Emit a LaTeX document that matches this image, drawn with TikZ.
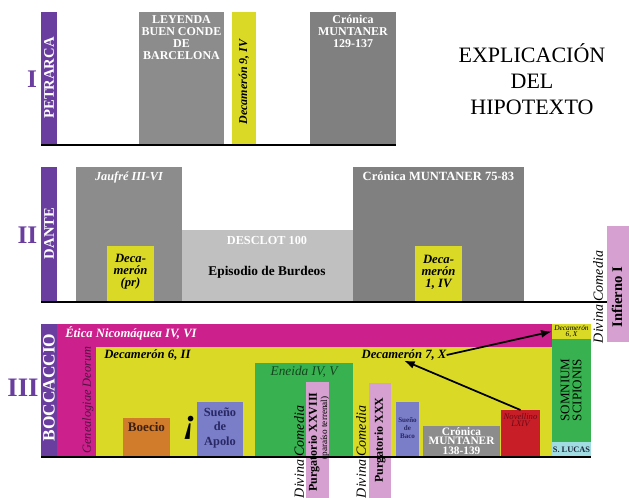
\documentclass[tikz,border=0pt]{standalone}
\usepackage{fontspec}
\setmainfont{Liberation Serif}
\usetikzlibrary{arrows.meta}

\definecolor{violeta}{RGB}{106,62,158}
\definecolor{gris}{RGB}{140,140,140}
\definecolor{grisoscuro}{RGB}{128,128,128}
\definecolor{grisclaro}{RGB}{192,192,192}
\definecolor{amarillo}{RGB}{218,218,38}
\definecolor{magenta}{RGB}{204,32,140}
\definecolor{verde}{RGB}{56,178,80}
\definecolor{naranja}{RGB}{208,124,42}
\definecolor{azul}{RGB}{122,126,200}
\definecolor{rosa}{RGB}{214,160,208}
\definecolor{rojo}{RGB}{200,30,40}
\definecolor{celeste}{RGB}{160,220,226}

\begin{document}
\begin{tikzpicture}[x=0.75pt,y=0.75pt,yscale=-1,xscale=1,
	base/.style={line width=1.2pt},
	flecha/.style={-{Latex[length=8pt,width=6pt]},line width=1.3pt},
	numero/.style={text=violeta,font=\bfseries\fontsize{19}{19}\selectfont,inner sep=0pt},
	autor/.style={rotate=90,text=white,font=\bfseries\fontsize{11}{11}\selectfont,inner sep=0pt},
	gristxt/.style={text=white,align=center,inner sep=0pt,font=\bfseries\fontsize{9}{9}\selectfont},
	cursiva/.style={align=center,inner sep=0pt,font=\bfseries\itshape\fontsize{9.5}{9}\selectfont},
	vertical/.style={rotate=90,inner sep=0pt}]
	\useasboundingbox (0,0) rectangle (629,498);

	%%% fila I: Petrarca
	%Shape: Rectangle
	\fill [violeta] (41,12) rectangle (57,145);
	\fill [gris] (139,12) rectangle (224,145);
	\fill [amarillo] (232,12) rectangle (256,145);
	\fill [grisoscuro] (310,12) rectangle (396,145);
	%Straight Lines
	\draw [base] (41,145) -- (396,145);

	% Text Node
	\draw (32,79) node [numero] (uno) {I};
	% Text Node
	\draw (49,78) node [autor] (petrarca) {PETRARCA};
	% Text Node
	\draw (181.5,15) node [gristxt,anchor=north] (leyenda) {LEYENDA\\BUEN CONDE\\DE\\BARCELONA};
	% Text Node
	\draw (244,82) node [vertical,font=\bfseries\itshape\fontsize{9}{9}\selectfont] (decnueve) {Decamerón 9, IV};
	% Text Node
	\draw (353,15) node [gristxt,anchor=north] (muntanera) {Crónica\\MUNTANER\\129-137};
	% Text Node
	\draw (532,79) node [align=center,inner sep=0pt,font=\fontsize{16.5}{19.5}\selectfont] (titulo) {EXPLICACIÓN\\DEL\\HIPOTEXTO};

	%%% fila II: Dante
	%Shape: Rectangle
	\fill [violeta] (41,167) rectangle (57,302);
	\fill [gris] (76,167) rectangle (182,302);
	\fill [amarillo] (107,246) rectangle (154,302);
	\fill [grisclaro] (182,230) rectangle (353,302);
	\fill [grisoscuro] (353,167) rectangle (524,302);
	\fill [amarillo] (415,246) rectangle (462,302);
	\fill [rosa] (607,226) rectangle (629,342);
	%Straight Lines
	\draw [base] (41,302) -- (607,302);

	% Text Node
	\draw (27.5,235) node [numero] (dos) {II};
	% Text Node
	\draw (49,233.5) node [autor] (dante) {DANTE};
	% Text Node
	\draw (129,177) node [gristxt,font=\bfseries\itshape\fontsize{9.2}{9}\selectfont] (jaufre) {Jaufré III-VI};
	% Text Node
	\draw (130.5,272) node [cursiva] (decpr) {Deca-\\merón\\(pr)};
	% Text Node
	\draw (267,240) node [gristxt,font=\bfseries\fontsize{9.2}{9}\selectfont] (desclot) {DESCLOT 100};
	% Text Node
	\draw (267,272) node [inner sep=0pt,font=\bfseries\fontsize{10}{10}\selectfont] (burdeos) {Episodio de Burdeos};
	% Text Node
	\draw (438.5,176) node [gristxt,font=\bfseries\fontsize{9.4}{9}\selectfont] (muntanerb) {Crónica MUNTANER 75-83};
	% Text Node
	\draw (438.5,272) node [cursiva] (decuno) {Deca-\\merón\\1, IV};
	% Text Node
	\draw (617,297) node [vertical,font=\bfseries\fontsize{11}{11}\selectfont] (infierno) {Infierno I};
	% Text Node
	\draw (598,297) node [vertical,font=\itshape\fontsize{10.5}{10.5}\selectfont] (divinaa) {Divina Comedia};

	%%% fila III: Boccaccio
	%Shape: Rectangle
	\fill [violeta] (41,324) rectangle (57,457);
	\fill [magenta] (57,324) rectangle (552,457);
	\fill [amarillo] (96,347) rectangle (552,457);
	\fill [naranja] (123,418) rectangle (170,457);
	\fill [azul] (197,402) rectangle (243,457);
	\fill [verde] (255,363) rectangle (353,457);
	\fill [azul] (396,402) rectangle (419,457);
	\fill [gris] (423,426) rectangle (500,457);
	\fill [rojo] (501,410) rectangle (540,457);
	\fill [amarillo] (552,324) rectangle (591,339);
	\fill [verde] (552,339) rectangle (591,442);
	\fill [celeste] (552,442) rectangle (591,457);
	\fill [rosa] (306,382) rectangle (329,498);
	\fill [rosa] (369,383) rectangle (391,498);
	%Straight Lines
	\draw [base] (41,457) -- (591,457);

	% Text Node
	\draw (23,388) node [numero,font=\bfseries\fontsize{20}{20}\selectfont] (tres) {III};
	% Text Node
	\draw (49,387.5) node [autor,font=\bfseries\fontsize{13}{13}\selectfont] (boccaccio) {BOCCACCIO};
	% Text Node
	\draw (65,333) node [anchor=west,text=white,inner sep=0pt,font=\bfseries\itshape\fontsize{9.5}{9.5}\selectfont] (etica) {Ética Nicomáquea IV, VI};
	% Text Node
	\draw (88,400) node [vertical,text={rgb,255:red,80;green,20;blue,64},font=\itshape\fontsize{9.3}{9.3}\selectfont] (genealogia) {Genealogiae Deorum};
	% Text Node
	\draw (104,355) node [cursiva,anchor=west] (decseis) {Decamerón 6, II};
	% Text Node
	\draw (146.5,427) node [inner sep=0pt,text={rgb,255:red,60;green,32;blue,20},font=\bfseries\fontsize{9.8}{9.8}\selectfont] (boecio) {Boecio};
	% Text Node
	\draw (190,428) node [inner sep=0pt,font=\bfseries\itshape\fontsize{26}{26}\selectfont] (exclama) {¡};
	% Text Node
	\draw (220,428) node [align=center,inner sep=0pt,text={rgb,255:red,40;green,40;blue,100},font=\bfseries\fontsize{9.3}{11}\selectfont] (apolo) {Sueño\\de\\Apolo};
	% Text Node
	\draw (304,372) node [inner sep=0pt,text={rgb,255:red,20;green,70;blue,30},font=\itshape\fontsize{10}{10}\selectfont] (eneida) {Eneida IV, V};
	% Text Node
	\draw (314,442) node [vertical,font=\bfseries\fontsize{9}{9}\selectfont] (purgatorioa) {Purgatorio XXVIII};
	% Text Node
	\draw (325,428) node [vertical,font=\fontsize{6.9}{6.9}\selectfont] (paraiso) {(paraíso terrenal)};
	% Text Node
	\draw (299,452) node [vertical,font=\itshape\fontsize{10.5}{10.5}\selectfont] (divinab) {Divina Comedia};
	% Text Node
	\draw (361,452) node [vertical,font=\itshape\fontsize{10.5}{10.5}\selectfont] (divinac) {Divina Comedia};
	% Text Node
	\draw (380,440) node [vertical,font=\bfseries\fontsize{9}{9}\selectfont] (purgatoriob) {Purgatorio XXX};
	% Text Node
	\draw (407.5,428) node [align=center,inner sep=0pt,text={rgb,255:red,40;green,40;blue,100},font=\bfseries\fontsize{5.3}{6.3}\selectfont] (baco) {Sueño\\de\\Baco};
	% Text Node
	\draw (461.5,441) node [gristxt,font=\bfseries\fontsize{8.5}{7.2}\selectfont] (muntanerc) {Crónica\\MUNTANER\\138-139};
	% Text Node
	\draw (520.5,410) node [anchor=north,align=center,minimum width=29.25pt,inner xsep=0pt,inner ysep=2.5pt,text={rgb,255:red,110;green,10;blue,20},font=\itshape\fontsize{6.5}{5.5}\selectfont] (nov) {Novellino\\LXIV};
	% Text Node
	\draw (404,355) node [cursiva] (decsiete) {Decamerón 7, X};
	% Text Node
	\draw (571.5,331.5) node [align=center,minimum width=29.25pt,inner sep=0pt,font=\itshape\fontsize{5.5}{5}\selectfont] (decx) {Decamerón\\6, X};
	% Text Node
	\draw (571,390) node [vertical,align=center,font=\fontsize{9.8}{9}\selectfont] (somnium) {SOMNIUM\\SCIPIONIS};
	% Text Node
	\draw (571.5,450) node [inner sep=0pt,text={rgb,255:red,30;green,40;blue,60},font=\bfseries\fontsize{6.3}{6.3}\selectfont] (lucas) {S. LUCAS};

	%Straight Lines
	\draw [flecha] (decsiete.east) -- (decx.west);
	\draw [flecha] (nov.north) -- (decsiete.south);
\end{tikzpicture}
\end{document}
